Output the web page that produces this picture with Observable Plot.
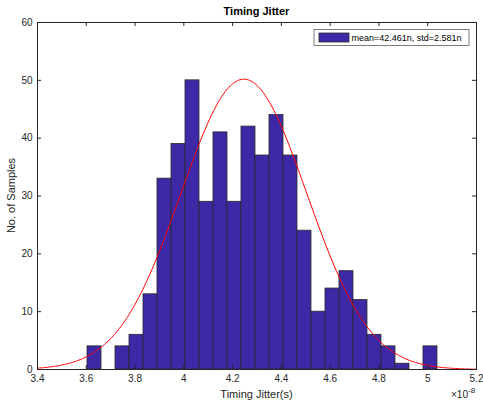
<!DOCTYPE html>
<html><head><meta charset="utf-8">
<script src="https://cdn.jsdelivr.net/npm/d3@7"></script>
<script src="https://cdn.jsdelivr.net/npm/@observablehq/plot@0.6"></script>
<style>body{margin:0;background:#fff} svg{display:block}</style>
</head><body><div id="chart"></div>
<script>
// histogram counts per bin
const counts = [4,0,4,6,13,33,39,50,29,41,29,42,37,44,37,24,10,14,17,12,6,4,1,0,4];
const binStart = 3.605;   // ×1e-8 s
const binWidth = 0.0574;  // ×1e-8 s
const xTicks = [3.4,3.6,3.8,4,4.2,4.4,4.6,4.8,5,5.2];
const yTicks = [0,10,20,30,40,50,60];
// fitted normal curve (legend values, ×1e-8 s) and its peak height
const fitMean = 4.2461;
const fitStd = 0.2581;
const fitPeak = 50.2;
const titleText = "Timing Jitter";
const xLabel = "Timing Jitter(s)";
const yLabel = "No. of Samples";
const legendText = "mean=42.461n, std=2.581n";

const W = 483, H = 404, mL = 37, mR = 7, mT = 22, mB = 35;
const pw = W - mL - mR, ph = H - mT - mB;
const font = "'Liberation Sans', Arial, Helvetica, sans-serif";
const ink = "#262626";

const bars = counts.map((c, i) => ({x1: binStart + i * binWidth, x2: binStart + (i + 1) * binWidth, y: c}));
const curve = d3.range(3.4, 5.2001, 0.005).map(x => ({x, y: fitPeak * Math.exp(-((x - fitMean) ** 2) / (2 * fitStd * fitStd))}));

const chart = Plot.plot({
  width: W, height: H,
  marginLeft: mL, marginRight: mR, marginTop: mT, marginBottom: mB,
  style: {fontFamily: font, background: "#fff"},
  x: {domain: [3.4, 5.2]},
  y: {domain: [0, 60]},
  marks: [
    Plot.rectY(bars, {x1: "x1", x2: "x2", y1: 0, y2: "y", fill: "#3d28a6", stroke: "#2a2a2a", strokeWidth: 0.8}),
    Plot.line(curve, {x: "x", y: "y", stroke: "#ff0000", strokeWidth: 1}),
    Plot.frame({stroke: ink, strokeWidth: 1}),
    Plot.tickX(xTicks, {x: d => d, insetTop: ph - 4, stroke: ink}),
    Plot.tickX(xTicks, {x: d => d, insetBottom: ph - 4, stroke: ink}),
    Plot.tickY(yTicks, {y: d => d, insetRight: pw - 4, stroke: ink}),
    Plot.tickY(yTicks, {y: d => d, insetLeft: pw - 4, stroke: ink}),
    Plot.axisX(xTicks, {tickSize: 0, tickPadding: 5, tickFormat: d => String(d), fontSize: 10, fill: ink, label: null}),
    Plot.axisY(yTicks, {tickSize: 0, tickPadding: 5, tickFormat: d => String(d), fontSize: 10, fill: ink, label: null})
  ]
});
document.getElementById("chart").appendChild(chart);

const svg = d3.select(chart);
svg.append("text").attr("x", mL + pw / 2).attr("y", 14.5).attr("text-anchor", "middle")
  .attr("font-family", font).attr("font-size", 11).attr("font-weight", "bold").attr("fill", "#000").text(titleText);
svg.append("text").attr("x", mL + pw / 2).attr("y", 398).attr("text-anchor", "middle")
  .attr("font-family", font).attr("font-size", 11).attr("fill", ink).text(xLabel);
svg.append("text").attr("transform", `translate(15,${mT + ph / 2}) rotate(-90)`).attr("text-anchor", "middle")
  .attr("font-family", font).attr("font-size", 11).attr("fill", ink).text(yLabel);
const ex = svg.append("text").attr("x", 451).attr("y", 398).attr("text-anchor", "start")
  .attr("font-family", font).attr("font-size", 10).attr("fill", ink);
ex.append("tspan").text("×10");
ex.append("tspan").attr("dy", -5).attr("font-size", 8).text("-8");

const lg = svg.append("g");
lg.append("rect").attr("x", 314).attr("y", 29.5).attr("width", 155).attr("height", 16)
  .attr("fill", "#fff").attr("stroke", ink).attr("stroke-width", 0.6);
lg.append("rect").attr("x", 319).attr("y", 33).attr("width", 30).attr("height", 9)
  .attr("fill", "#3d28a6").attr("stroke", "#2a2a2a").attr("stroke-width", 0.8);
lg.append("text").attr("x", 351.5).attr("y", 41).attr("text-anchor", "start")
  .attr("font-family", font).attr("font-size", 9).attr("fill", "#000").text(legendText);
</script>
</body></html>
